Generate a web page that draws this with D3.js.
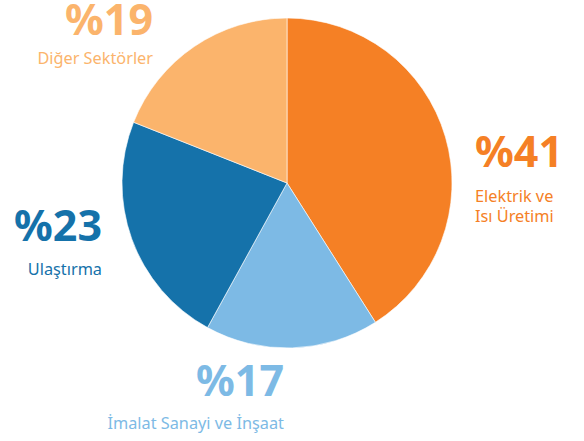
<!DOCTYPE html>
<html>
<head>
<meta charset="utf-8">
<script src="https://cdn.jsdelivr.net/npm/d3@7"></script>
<style>
  body { margin: 0; background: #fff; }
  svg { display: block; }
</style>
</head>
<body>
<script>
// Data
const sectors = ["Elektrik ve Isı Üretimi", "İmalat Sanayi ve İnşaat", "Ulaştırma", "Diğer Sektörler"];
const shares = [41, 17, 23, 19];
const labelLines = [["Elektrik ve", "Isı Üretimi"], ["İmalat Sanayi ve İnşaat"], ["Ulaştırma"], ["Diğer Sektörler"]];
const colors = ["#F58025", "#7DBAE5", "#1572AA", "#FBB46C"];

const width = 584, height = 441;
const cx = 287, cy = 183, radius = 165;

// label placement (x, baseline of the big number, anchor, sub-label first baseline)
const labelPos = [
  { x: 475, y: 167, anchor: "start", subY: 202 },
  { x: 284, y: 396, anchor: "end", subY: 429 },
  { x: 102, y: 241, anchor: "end", subY: 275 },
  { x: 153, y: 35, anchor: "end", subY: 64 }
];

const data = sectors.map((s, i) => ({ sector: s, value: shares[i], lines: labelLines[i], color: colors[i] }));

let svg = d3.select('body')
  .append('svg')
  .attr('width', width)
  .attr('height', height);

let pie = d3.pie()
  .value(d => d.value)
  .sort(null);

let arc = d3.arc()
  .innerRadius(0)
  .outerRadius(radius);

let g = svg.append('g')
  .attr('transform', `translate(${cx}, ${cy})`);

g.selectAll('path')
  .data(pie(data))
  .enter()
  .append('path')
  .attr('d', arc)
  .attr('fill', d => d.data.color)
  .attr('stroke', '#fff')
  .attr('stroke-width', 0.6);

// Labels
let labels = svg.selectAll('g.label')
  .data(data)
  .enter()
  .append('g')
  .attr('class', 'label');

labels.append('text')
  .attr('x', (d, i) => labelPos[i].x)
  .attr('y', (d, i) => labelPos[i].y)
  .attr('text-anchor', (d, i) => labelPos[i].anchor)
  .style('font-family', "'Noto Sans', sans-serif")
  .style('font-weight', 'bold')
  .style('font-size', '43px')
  .attr('fill', d => d.color)
  .text(d => '%' + d.value);

labels.each(function(d, i) {
  d3.select(this).selectAll('text.sub')
    .data(d.lines)
    .enter()
    .append('text')
    .attr('class', 'sub')
    .attr('x', labelPos[i].x)
    .attr('y', (t, j) => labelPos[i].subY + j * 20)
    .attr('text-anchor', labelPos[i].anchor)
    .style('font-family', "'Noto Sans', sans-serif")
    .style('font-size', '16.3px')
    .attr('fill', d.color)
    .text(t => t);
});
</script>
</body>
</html>
